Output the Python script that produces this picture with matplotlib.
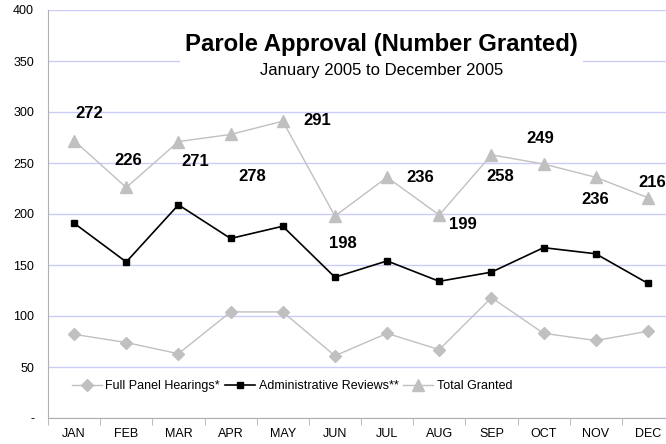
import matplotlib
matplotlib.use("Agg")
import matplotlib.pyplot as plt

plt.rcParams['font.family'] = ['Liberation Sans', 'DejaVu Sans']

months = ['JAN', 'FEB', 'MAR', 'APR', 'MAY', 'JUN', 'JUL', 'AUG', 'SEP', 'OCT', 'NOV', 'DEC']
full_panel = [82, 74, 63, 104, 104, 61, 83, 67, 118, 83, 76, 85]
admin_reviews = [191, 153, 209, 176, 188, 138, 154, 134, 143, 167, 161, 132]
total_granted = [272, 226, 271, 278, 291, 198, 236, 199, 258, 249, 236, 216]
# label offsets in pixels from each marker
label_offsets = [(15, 27), (2, 27), (17, -20), (22, -42), (34, 1), (8, -27),
                 (33, 0), (24, -9), (9, -22), (-3, 26), (-1, -22), (4, 15)]

grey = '#c0c0c0'

fig = plt.figure(figsize=(6.66, 4.44), dpi=100)
ax = fig.add_axes([48 / 666, 26 / 444, 626 / 666, 408 / 444])
x = list(range(len(months)))

ax.plot(x, full_panel, color=grey, lw=1, marker='D', ms=6.5, mec=grey, mfc=grey,
        label='Full Panel Hearings*', zorder=3)
ax.plot(x, admin_reviews, color='black', lw=1.2, marker='s', ms=5, mec='black', mfc='black',
        label='Administrative Reviews**', zorder=3)
ax.plot(x, total_granted, color=grey, lw=1, marker='^', ms=8, mec=grey, mfc=grey,
        label='Total Granted', zorder=3)

for xi, v, off in zip(x, total_granted, label_offsets):
    ax.annotate(str(v), (xi, v), xytext=off, textcoords='offset pixels',
                ha='center', va='center', fontsize=12, fontweight='bold', zorder=5)

ax.set_xlim(-0.5, 11.5)
ax.set_ylim(0, 400)
ax.set_yticks(range(0, 401, 50))
ax.set_yticklabels(['-'] + [str(v) for v in range(50, 401, 50)], fontsize=9)
ax.set_xticks(x)
ax.set_xticklabels(months, fontsize=9)
ax.set_xticks([i - 0.5 for i in range(13)], minor=True)
ax.tick_params(axis='x', which='major', length=0, pad=7)
ax.tick_params(axis='x', which='minor', length=5, color='#b0b0b0')
ax.tick_params(axis='y', length=0, pad=10)

ax.grid(axis='y', color='#ccccfa', lw=1, zorder=0)
ax.set_axisbelow(True)
for s in ['top', 'right']:
    ax.spines[s].set_visible(False)
for s in ['left', 'bottom']:
    ax.spines[s].set_color('#b0b0b0')

# white title box over the gridlines
fig.text(381 / 666, 1 - 45 / 444, 'Parole Approval (Number Granted)', ha='center', va='center',
         fontsize=17.2, fontweight='bold', zorder=6)
fig.text(382 / 666, 1 - 71 / 444, 'January 2005 to December 2005', ha='center', va='center',
         fontsize=12, zorder=6)
fig.patches.append(plt.Rectangle((180 / 666, 1 - 95 / 444), 403 / 666, 68 / 444,
                                 transform=fig.transFigure, facecolor='white',
                                 edgecolor='none', zorder=4))

ax.legend(loc='lower center', bbox_to_anchor=(0.39, 0.035), ncol=3, frameon=False,
          fontsize=9, handlelength=2.4, columnspacing=0.4, handletextpad=0.3)

fig.savefig('out.png', dpi=100)
